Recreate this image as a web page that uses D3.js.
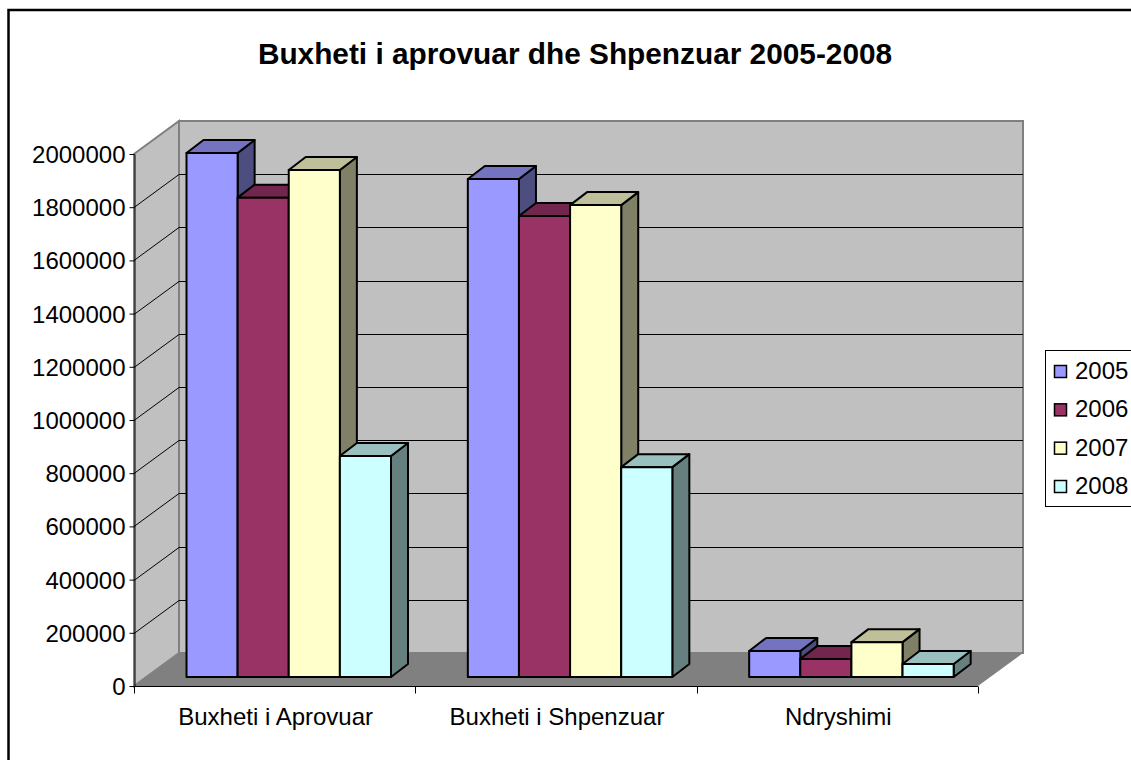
<!DOCTYPE html>
<html><head><meta charset="utf-8">
<style>html,body{margin:0;padding:0;background:#fff;overflow:hidden}svg{display:block}text{font-family:"Liberation Sans",Arial,sans-serif;fill:#000}</style>
<script src="https://cdn.jsdelivr.net/npm/d3@7"></script></head><body>
<script>
const chartTitle = "Buxheti i aprovuar dhe Shpenzuar 2005-2008";
const categories = ["Buxheti i Aprovuar", "Buxheti i Shpenzuar", "Ndryshimi"];
const seriesNames = ["2005", "2006", "2007", "2008"];
const values2005 = [1970000, 1872000, 98000];
const values2006 = [1802000, 1733000, 68000];
const values2007 = [1906000, 1774000, 131000];
const values2008 = [831000, 789000, 49000];
const yTicks = [0,200000,400000,600000,800000,1000000,1200000,1400000,1600000,1800000,2000000];
const seriesValues = [values2005, values2006, values2007, values2008];
const frontColors = ["#9999ff","#993366","#ffffcc","#ccffff"];
const topColors = ["#7373bf","#73264d","#bfbf99","#99bfbf"];
const sideColors = ["#4d4d80","#4d1a33","#808066","#668080"];

const W=1131,H=760;
const svg=d3.select("body").append("svg").attr("width",W).attr("height",H);
svg.append("rect").attr("x",8.5).attr("y",10).attr("width",W+20).attr("height",H+20).attr("fill","#fff").attr("stroke","#000").attr("stroke-width",2.5);

svg.append("text").attr("x",575).attr("y",64).attr("text-anchor","middle").attr("font-weight","bold").attr("font-size",29.8).text(chartTitle);

const x0=134,x1=978,y0=686,yTop=154,dx=45,dy=-33;
const xCat=d3.scaleBand().domain(categories).range([x0,x1]);
const xBar=d3.scaleBand().domain(seriesNames).range([52.5,257]);
const yScale=d3.scaleLinear().domain([0,2000000]).range([y0,yTop]);
const path=pts=>"M"+pts.map(p=>p.join(",")).join("L")+"Z";

// walls
const wallGrey="#c0c0c0", edge="#808080";
svg.append("path").attr("d",path([[x0,y0],[x0+dx,y0+dy],[x0+dx,yTop+dy],[x0,yTop]])).attr("fill",wallGrey).attr("stroke",edge).attr("stroke-width",2);
svg.append("path").attr("d",path([[x0+dx,y0+dy],[x1+dx,y0+dy],[x1+dx,yTop+dy],[x0+dx,yTop+dy]])).attr("fill",wallGrey).attr("stroke",edge).attr("stroke-width",2);
svg.append("path").attr("d",path([[x0,y0],[x1,y0],[x1+dx,y0+dy],[x0+dx,y0+dy]])).attr("fill","#808080");

// gridlines
const grid=svg.append("g").attr("fill","none").attr("stroke","#000").attr("stroke-width",1);
yTicks.filter(t=>t>0).forEach(t=>{
  const y=Math.round(yScale(t))+.5;
  if(t<2000000) grid.append("path").attr("d",`M${x0},${y}L${x0+dx},${y+dy}L${x1+dx},${y+dy}`);
});

// axes
const axisLeft=d3.axisLeft(yScale).tickValues(yTicks).tickFormat(d3.format("d")).tickSize(5).tickPadding(4).tickSizeOuter(0);
const gy=svg.append("g").attr("transform",`translate(${x0+.5},0)`).call(axisLeft);
gy.selectAll("text").attr("font-size",24).attr("font-family",'"Liberation Sans",Arial,sans-serif').attr("dy","0.35em");
gy.selectAll("line,path").attr("stroke","#000");
const gx=svg.append("g").attr("transform",`translate(0,${y0+.5})`);
gx.append("line").attr("x1",x0).attr("x2",x1).attr("stroke","#000");
gx.selectAll("line.t").data([...categories.map(c=>xCat(c)),x1]).join("line").attr("class","t").attr("x1",d=>Math.round(d)+.5).attr("x2",d=>Math.round(d)+.5).attr("y1",0).attr("y2",7).attr("stroke","#000");
gx.selectAll("text").data(categories).join("text").attr("x",c=>xCat(c)+xCat.bandwidth()/2+1).attr("y",38).attr("text-anchor","middle").attr("font-size",24).text(c=>c);

// bars
const bd=17,bh=-13,baseY=677;
const h=v=>y0-yScale(v);
const bars=svg.append("g").attr("stroke","#000").attr("stroke-width",2).attr("stroke-linejoin","round");
categories.forEach((c,ci)=>{
  seriesNames.forEach((s,si)=>{
    const v=seriesValues[si][ci];
    const l=xCat(c)+xBar(s), r=l+xBar.bandwidth(), t=baseY-h(v);
    bars.append("path").attr("d",path([[r,baseY],[r+bd,baseY+bh],[r+bd,t+bh],[r,t]])).attr("fill",sideColors[si]);
    bars.append("path").attr("d",path([[l,t],[l+bd,t+bh],[r+bd,t+bh],[r,t]])).attr("fill",topColors[si]);
    bars.append("rect").attr("x",l).attr("y",t).attr("width",r-l).attr("height",baseY-t).attr("fill",frontColors[si]);
  });
});

// legend
const legY=d3.scalePoint().domain(seriesNames).range([371,486]);
svg.append("rect").attr("x",1045.5).attr("y",350.5).attr("width",W).attr("height",156).attr("fill","#fff").attr("stroke","#000");
const leg=svg.append("g").selectAll("g").data(seriesNames).join("g").attr("transform",s=>`translate(0,${legY(s)})`);
leg.append("rect").attr("x",1054.5).attr("y",-5.5).attr("width",12).attr("height",12).attr("fill",(s,i)=>frontColors[i]).attr("stroke","#000").attr("stroke-width",1.5);
leg.append("text").attr("x",1075).attr("y",8).attr("font-size",24).text(s=>s);
</script></body></html>
